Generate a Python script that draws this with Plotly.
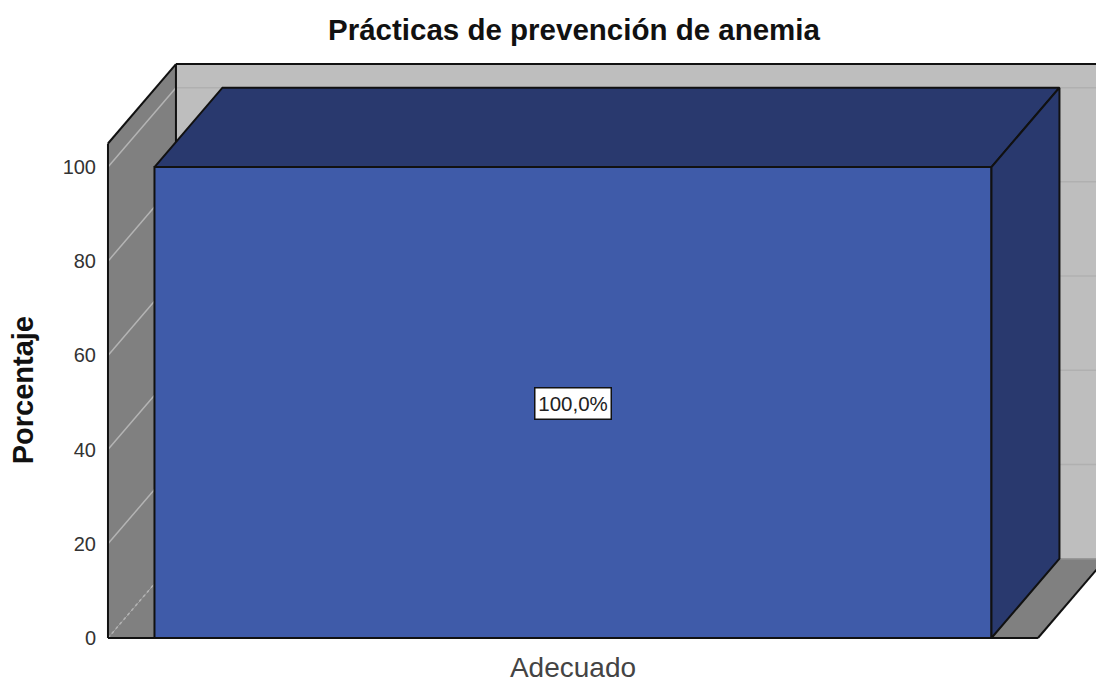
import plotly.graph_objects as go

# Chart content
categories = ["Adecuado"]
percentages = [100.0]
value_labels = ["100,0%"]
y_ticks = [0, 20, 40, 60, 80, 100]
chart_title = "Prácticas de prevención de anemia"
y_title = "Porcentaje"

# Pseudo-3D projection, expressed in axis units
DEPTH_X = 0.0731
DEPTH_Y = 16.85
WALL_TOP = 105.0
BAR_WIDTH = 0.9
X_MIN, X_MAX = -0.5, 0.5

FONT = "Liberation Sans, Arial, sans-serif"
WALL_BACK = "#bebebe"
WALL_SIDE = "#808080"
BAR_FRONT = "#3f5ba9"
BAR_DARK = "#29396e"
EDGE = "#111111"


def polygon(xs, ys, fill):
    path = "M " + " L ".join(f"{x},{y}" for x, y in zip(xs, ys)) + " Z"
    return dict(type="path", path=path, xref="x", yref="y", layer="below",
                fillcolor=fill, line=dict(width=0))


def segment(x0, y0, x1, y1, color=EDGE, width=2.0, dash="solid"):
    return dict(type="line", x0=x0, y0=y0, x1=x1, y1=y1, xref="x", yref="y",
                layer="below", line=dict(color=color, width=width, dash=dash))


back_x0 = X_MIN + DEPTH_X
back_x1 = X_MAX + DEPTH_X
back_right = back_x1 + 0.05

# Box faces: back wall, floor, side wall
shapes = [
    polygon([back_x0, back_right, back_right, back_x0],
            [DEPTH_Y, DEPTH_Y, WALL_TOP + DEPTH_Y, WALL_TOP + DEPTH_Y], WALL_BACK),
    polygon([X_MIN, X_MAX, back_x1, back_x0],
            [0, 0, DEPTH_Y, DEPTH_Y], WALL_SIDE),
    polygon([X_MIN, back_x0, back_x0, X_MIN],
            [0, DEPTH_Y, WALL_TOP + DEPTH_Y, WALL_TOP], WALL_SIDE),
]

# Gridlines wrap from the side wall onto the back wall
for tick in y_ticks:
    shapes.append(segment(X_MIN, tick, back_x0, tick + DEPTH_Y,
                          "#b4b4b4", 1.5, "dot" if tick == 0 else "solid"))
    if tick > 0:
        shapes.append(segment(back_x0, tick + DEPTH_Y, back_right, tick + DEPTH_Y, "#b0b0b0", 1.5))

# Box outline
shapes += [
    segment(back_x0, DEPTH_Y, back_right, DEPTH_Y, "#989898", 1.5),
    segment(X_MIN, 0, X_MIN, WALL_TOP),
    segment(X_MIN, WALL_TOP, back_x0, WALL_TOP + DEPTH_Y),
    segment(back_x0, WALL_TOP + DEPTH_Y, back_right, WALL_TOP + DEPTH_Y),
    segment(back_x0, DEPTH_Y, back_x0, WALL_TOP + DEPTH_Y),
    segment(X_MIN, 0, X_MAX, 0),
    segment(X_MAX, 0, back_x1, DEPTH_Y),
]

fig = go.Figure()

# Front face of the bar
fig.add_trace(go.Bar(
    x=[0], y=percentages, width=[BAR_WIDTH],
    marker=dict(color=BAR_FRONT, line=dict(color=EDGE, width=2)),
    hoverinfo="skip",
))

# Top and side faces, projected from the bar value
left = -BAR_WIDTH / 2
right = BAR_WIDTH / 2
top = percentages[0]
fig.add_trace(go.Scatter(
    x=[left, right, right + DEPTH_X, left + DEPTH_X, left],
    y=[top, top, top + DEPTH_Y, top + DEPTH_Y, top],
    mode="lines", fill="toself", fillcolor=BAR_DARK,
    line=dict(color=EDGE, width=2), hoverinfo="skip",
))
fig.add_trace(go.Scatter(
    x=[right, right + DEPTH_X, right + DEPTH_X, right, right],
    y=[0, DEPTH_Y, top + DEPTH_Y, top, 0],
    mode="lines", fill="toself", fillcolor=BAR_DARK,
    line=dict(color=EDGE, width=2), hoverinfo="skip",
))

fig.add_annotation(
    x=0, y=top / 2, xref="x", yref="y", text=value_labels[0], showarrow=False,
    font=dict(family=FONT, size=20.5, color="#222222"),
    width=75, height=30, align="center", valign="middle", yshift=-1,
    bgcolor="white", bordercolor="#111111", borderwidth=1.5, borderpad=0,
)

# Axis title sits lower than the axis centre
fig.add_annotation(
    x=-0.0827, xref="paper", xanchor="center", y=52.6, yref="y", yanchor="middle",
    text=f"<b>{y_title}</b>", textangle=-90, showarrow=False,
    font=dict(family=FONT, size=29, color="#111111"),
)

fig.update_layout(
    width=1096, height=679, showlegend=False,
    paper_bgcolor="white", plot_bgcolor="white",
    margin=dict(l=105, r=0, t=58, b=38, autoexpand=False),
    shapes=shapes,
    title=dict(text=f"<b>{chart_title}</b>", x=574 / 1096, xanchor="center",
               y=1 - 30 / 679, yanchor="middle",
               font=dict(family=FONT, size=29.5, color="#111111")),
    xaxis=dict(range=[-0.5032, 0.5624], tickmode="array", tickvals=[0],
               ticktext=categories, showgrid=False, zeroline=False, showline=False,
               automargin=False,
               ticks="outside", ticklen=1, tickcolor="rgba(0,0,0,0)",
               tickfont=dict(family=FONT, size=28, color="#444444")),
    yaxis=dict(range=[-0.64, 123.15], tickmode="array", tickvals=y_ticks,
               showgrid=False, zeroline=False, showline=False,
               automargin=False,
               ticks="outside", ticklen=4, tickcolor="rgba(0,0,0,0)",
               tickfont=dict(family=FONT, size=20, color="#333333")),
)

fig.write_html("out.html")
